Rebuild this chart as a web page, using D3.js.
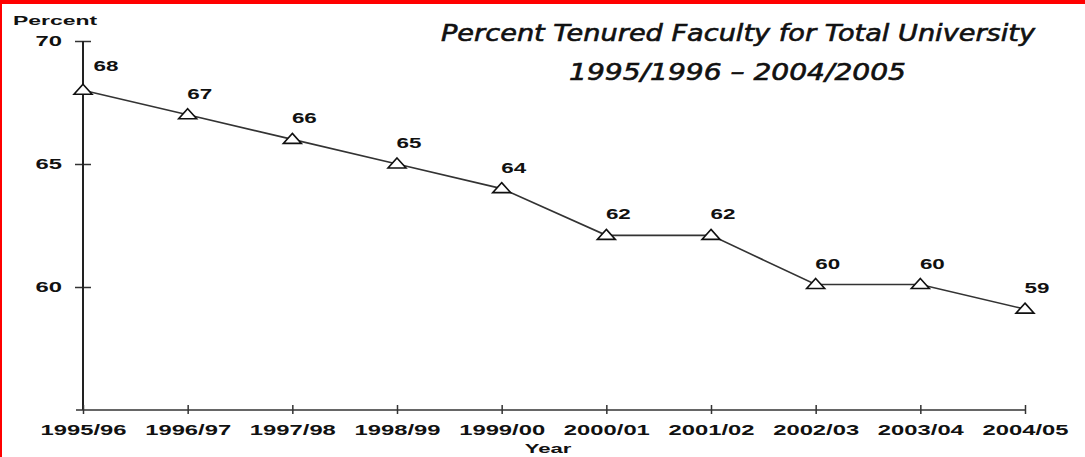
<!DOCTYPE html>
<html lang="en">
<head>
    <meta charset="UTF-8">
    <title>Percent Tenured Faculty</title>
    <script src="https://cdn.jsdelivr.net/npm/d3@7"></script>
    <style>
        body { margin: 0; background: #fff; }
        svg { display: block; }
    </style>
</head>
<body>
<div id="chart"></div>
<script>
    // data
    var years = ["1995/96", "1996/97", "1997/98", "1998/99", "1999/00",
                 "2000/01", "2001/02", "2002/03", "2003/04", "2004/05"];
    var percent = [68, 67, 66, 65, 64, 62.1, 62.1, 60.1, 60.1, 59.1];
    var pointLabels = ["68", "67", "66", "65", "64", "62", "62", "60", "60", "59"];
    var yTicks = [60, 65, 70];

    var width = 1085, height = 457;
    var boldFont = "'Liberation Sans', Arial, sans-serif";

    var svg = d3.select("#chart").append("svg")
        .attr("width", width)
        .attr("height", height);

    // red frame on top and left
    svg.append("rect").attr("x", 0).attr("y", 0).attr("width", width).attr("height", 4).attr("fill", "#ff0000");
    svg.append("rect").attr("x", 0).attr("y", 0).attr("width", 2).attr("height", height).attr("fill", "#ff0000");

    var x = d3.scalePoint().domain(years).range([83, 1025]);
    var y = d3.scaleLinear().domain([55, 70]).range([410, 41]);

    // axes
    var yAxis = svg.append("g")
        .attr("transform", "translate(" + x(years[0]) + ",0)")
        .call(d3.axisLeft(y).tickValues(yTicks).tickSize(8));
    yAxis.select(".domain").remove();
    yAxis.selectAll(".tick line").attr("x1", -8).attr("x2", 8)
        .attr("stroke", "#333").attr("stroke-width", 1.5);
    yAxis.selectAll(".tick text")
        .attr("x", 0).attr("dy", "0.35em")
        .attr("transform", "translate(-21,0) scale(1.7,1)")
        .attr("font-family", boldFont).attr("font-weight", "bold")
        .attr("font-size", 14).attr("fill", "#111");
    yAxis.append("line")
        .attr("x1", 0).attr("x2", 0)
        .attr("y1", y(70)).attr("y2", y(55))
        .attr("stroke", "#222").attr("stroke-width", 2);

    var xAxis = svg.append("g")
        .attr("transform", "translate(0," + y(55) + ")")
        .call(d3.axisBottom(x).tickSize(8));
    xAxis.select(".domain").remove();
    xAxis.selectAll(".tick line").attr("y1", -5).attr("y2", 4)
        .attr("stroke", "#333").attr("stroke-width", 1.5);
    xAxis.selectAll(".tick text")
        .attr("y", 25).attr("dy", 0)
        .attr("transform", "scale(1.7,1)")
        .attr("font-family", boldFont).attr("font-weight", "bold")
        .attr("font-size", 14).attr("fill", "#111");
    xAxis.append("line")
        .attr("x1", x(years[0]) - 7).attr("x2", x(years[years.length - 1]))
        .attr("y1", 0).attr("y2", 0)
        .attr("stroke", "#333").attr("stroke-width", 1.6);

    // axis names
    svg.append("text")
        .attr("transform", "translate(13,25) scale(1.7,1)")
        .attr("font-family", boldFont).attr("font-weight", "bold")
        .attr("font-size", 13.5).attr("fill", "#111")
        .text("Percent");
    svg.append("text")
        .attr("transform", "translate(548,453) scale(1.7,1)")
        .attr("text-anchor", "middle")
        .attr("font-family", boldFont).attr("font-weight", "bold")
        .attr("font-size", 13).attr("fill", "#111")
        .text("Year");

    // title
    svg.append("text")
        .attr("x", 441).attr("y", 41)
        .attr("textLength", 594).attr("lengthAdjust", "spacingAndGlyphs")
        .attr("font-family", "'DejaVu Sans', Verdana, sans-serif")
        .attr("font-style", "italic").attr("font-size", 22.5).attr("fill", "#111")
        .attr("stroke", "#111").attr("stroke-width", 0.6)
        .text("Percent Tenured Faculty for Total University");
    svg.append("text")
        .attr("x", 569).attr("y", 80)
        .attr("textLength", 337).attr("lengthAdjust", "spacingAndGlyphs")
        .attr("font-family", "'DejaVu Sans', Verdana, sans-serif")
        .attr("font-style", "italic").attr("font-size", 22.5).attr("fill", "#111")
        .attr("stroke", "#111").attr("stroke-width", 0.6)
        .text("1995/1996 \u2013 2004/2005");

    // line
    var line = d3.line()
        .x(function(d, i) { return x(years[i]); })
        .y(function(d) { return y(d); });
    svg.append("path")
        .datum(percent)
        .attr("d", line)
        .attr("fill", "none")
        .attr("stroke", "#333")
        .attr("stroke-width", 1.6);

    // triangle markers
    svg.selectAll(".marker")
        .data(percent)
        .enter()
        .append("path")
        .attr("class", "marker")
        .attr("d", "M0,-6 L9,4 L-9,4 Z")
        .attr("transform", function(d, i) { return "translate(" + x(years[i]) + "," + y(d) + ")"; })
        .attr("fill", "#fff")
        .attr("stroke", "#111")
        .attr("stroke-width", 1.6);

    // value labels
    svg.selectAll(".vlabel")
        .data(percent)
        .enter()
        .append("text")
        .attr("class", "vlabel")
        .attr("transform", function(d, i) {
            var dx = i === 0 ? 23 : 12;
            var dy = i === 0 ? -19 : -16;
            return "translate(" + (x(years[i]) + dx) + "," + (y(d) + dy) + ") scale(1.6,1)";
        })
        .attr("text-anchor", "middle")
        .attr("font-family", boldFont).attr("font-weight", "bold")
        .attr("font-size", 14).attr("fill", "#111")
        .text(function(d, i) { return pointLabels[i]; });
</script>
</body>
</html>
